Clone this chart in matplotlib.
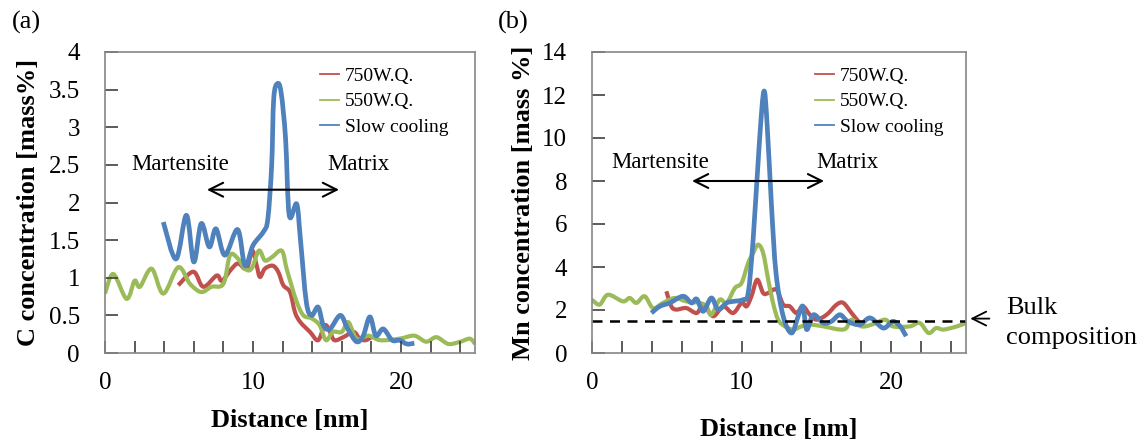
import numpy as np
import matplotlib
matplotlib.use('Agg')
import matplotlib.pyplot as plt
from matplotlib.lines import Line2D
from matplotlib.path import Path
from matplotlib.patches import PathPatch

plt.rcParams['font.family'] = ['Liberation Serif', 'DejaVu Serif']

# (a) carbon profiles
c_slow_x = [3.94, 4.8, 5.5, 6.0, 6.5, 7.05, 7.5, 8.1, 8.96, 9.46, 10.0, 10.7, 11.0, 11.26,
            11.4, 11.65, 11.9, 12.2, 12.45, 12.95, 13.2, 13.6, 13.96, 14.4, 14.75, 15.2,
            15.9, 16.4, 17.0, 17.45, 17.9, 18.3, 18.8, 19.4, 19.9, 20.4, 20.9]
c_slow_y = [1.74, 1.25, 1.83, 1.21, 1.72, 1.41, 1.65, 1.30, 1.64, 1.16, 1.43, 1.61, 1.78, 2.49,
            3.38, 3.58, 3.46, 2.85, 1.83, 1.98, 1.52, 0.68, 0.50, 0.61, 0.37, 0.32,
            0.50, 0.32, 0.15, 0.23, 0.48, 0.23, 0.32, 0.17, 0.17, 0.12, 0.13]

c_750_x = [4.95, 5.97, 6.64, 7.55, 7.9, 8.56, 9.0, 9.57, 9.95, 10.25, 10.47, 10.8, 11.33, 11.7,
           12.05, 12.5, 12.84, 13.2, 13.85, 14.4, 14.86, 15.2, 15.5, 16.1, 16.8, 17.2, 17.6, 18.0]
c_750_y = [0.90, 1.08, 0.88, 1.03, 0.96, 1.12, 1.19, 1.12, 1.36, 1.16, 1.01, 1.12, 1.16, 1.08,
           0.90, 0.81, 0.54, 0.41, 0.28, 0.17, 0.37, 0.28, 0.17, 0.21, 0.28, 0.19, 0.17, 0.21]

c_550_x = [0.0, 0.56, 1.46, 2.0, 2.36, 3.15, 3.94, 4.95, 5.74, 6.5, 7.2, 8.0, 8.45, 9.0, 9.46,
           9.9, 10.4, 10.8, 11.26, 11.94, 12.27, 12.6, 12.95, 13.4, 13.96, 14.5, 14.93, 15.4,
           16.0, 16.44, 17.0, 17.8, 18.6, 19.9, 20.9, 21.7, 22.4, 23.2, 24.0, 24.66, 25.0]
c_550_y = [0.79, 1.05, 0.72, 0.96, 0.88, 1.12, 0.79, 1.14, 0.92, 0.81, 0.88, 0.92, 1.30, 1.25, 1.12,
           1.12, 1.36, 1.23, 1.27, 1.36, 1.12, 0.90, 0.68, 0.50, 0.46, 0.37, 0.17, 0.28,
           0.28, 0.41, 0.19, 0.23, 0.17, 0.19, 0.23, 0.15, 0.21, 0.12, 0.15, 0.19, 0.12]

# (b) manganese profiles
mn_slow_x = [3.97, 4.53, 5.2, 6.09, 6.65, 7.0, 7.43, 7.98, 8.43, 9.0, 9.43, 10.1, 10.44, 10.77,
             11.2, 11.49, 11.7, 12.0, 12.3, 12.78, 13.34, 13.78, 14.1, 14.35, 14.8, 15.45,
             16.0, 16.57, 17.1, 17.9, 18.6, 19.47, 20.1, 20.6, 21.0]
mn_slow_y = [1.86, 2.17, 2.33, 2.64, 2.33, 2.51, 1.94, 2.56, 2.02, 2.33, 2.40, 2.48, 2.79, 5.27,
             9.92, 12.17, 10.7, 6.82, 3.72, 1.71, 0.93, 1.71, 2.17, 1.09, 1.78, 1.40,
             1.47, 1.78, 1.47, 1.32, 1.63, 1.16, 1.47, 1.24, 0.78]

mn_750_x = [4.97, 5.3, 5.64, 6.3, 7.0, 7.43, 8.1, 8.76, 9.43, 10.0, 10.33, 10.66, 11.04, 11.44,
            11.78, 12.33, 12.78, 13.22, 13.67, 14.1, 14.56, 15.0, 15.68, 16.35, 16.8, 17.35,
            17.9, 18.1]
mn_750_y = [2.87, 2.17, 2.02, 2.09, 1.86, 2.25, 1.71, 2.17, 1.86, 2.33, 2.17, 2.64, 3.41, 2.79,
            2.79, 2.95, 2.25, 2.17, 1.86, 2.17, 1.78, 1.55, 1.78, 2.25, 2.33, 1.86,
            1.40, 1.32]

mn_550_x = [0.0, 0.51, 1.07, 2.07, 2.52, 2.97, 3.52, 4.08, 4.75, 5.53, 6.31, 7.2, 7.65, 7.98,
            8.54, 9.0, 9.55, 10.0, 10.44, 10.77, 11.1, 11.44, 11.78, 12.1, 12.44, 12.9, 13.45,
            14.0, 14.56, 15.45, 16.57, 17.0, 17.35, 18.0, 18.7, 19.6, 20.1, 21.25, 21.9, 22.5,
            23.0, 23.5, 24.4, 25.0]
mn_550_y = [2.48, 2.25, 2.71, 2.40, 2.56, 2.33, 2.64, 2.09, 2.33, 2.56, 2.40, 2.33, 2.17, 1.78,
            2.48, 2.33, 3.02, 3.26, 4.19, 4.65, 5.04, 4.65, 3.41, 2.33, 1.55, 1.24, 1.09,
            1.24, 1.32, 1.24, 1.09, 1.16, 1.55, 1.24, 1.32, 1.55, 1.24, 1.24, 1.40, 0.93,
            1.16, 1.09, 1.24, 1.40]

bulk_mn = 1.5

labels = ['750W.Q.', '550W.Q.', 'Slow cooling']
colors = ['#C0504D', '#9BBB59', '#4F81BD']
spine_col = '#868686'

fig = plt.figure(figsize=(11.43, 4.41), dpi=100)
ax1 = fig.add_axes([105/1143, 88/441, 370/1143, 301/441])
ax2 = fig.add_axes([592/1143, 88/441, 374/1143, 301/441])


def smooth_line(ax, xs, ys, color, lw):
    # Excel-style smoothed line: cubic Bezier through the points (Catmull-Rom tangents)
    p = np.column_stack([xs, ys])
    ext = np.vstack([p[0], p, p[-1]])
    verts = [p[0]]
    codes = [Path.MOVETO]
    for i in range(len(p) - 1):
        p0, p1, p2, p3 = ext[i], ext[i + 1], ext[i + 2], ext[i + 3]
        verts += [p1 + (p2 - p0) / 6.0, p2 - (p3 - p1) / 6.0, p2]
        codes += [Path.CURVE4] * 3
    patch = PathPatch(Path(verts, codes), facecolor='none', edgecolor=color, lw=lw,
                      joinstyle='round', capstyle='butt')
    ax.add_patch(patch)


def style_axis(ax, ymax, ystep):
    ax.set_xlim(0, 25)
    ax.set_ylim(0, ymax)
    ax.set_xticks(np.arange(0, 25, 2))
    ax.set_xticklabels(['0' if t == 0 else (str(t) if t % 10 == 0 else '') for t in range(0, 25, 2)])
    yt = np.arange(0, ymax + 0.001, ystep)
    ax.set_yticks(yt)
    ax.set_yticklabels(['%g' % v for v in yt])
    for s in ax.spines.values():
        s.set_color(spine_col)
        s.set_linewidth(1.2)
    ax.tick_params(axis='both', direction='in', length=9, width=1.2, color='#404040',
                   labelsize=18)
    ax.tick_params(axis='y', pad=18)
    ax.tick_params(axis='x', pad=14)


# panel (a)
smooth_line(ax1, c_750_x, c_750_y, colors[0], 3.0)
smooth_line(ax1, c_550_x, c_550_y, colors[1], 3.0)
smooth_line(ax1, c_slow_x, c_slow_y, colors[2], 3.4)
style_axis(ax1, 4, 0.5)
ax1.set_xlabel('Distance [nm]', fontsize=19, fontweight='bold')
ax1.set_ylabel('C concentration [mass%]', fontsize=19, fontweight='bold')
ax1.xaxis.set_label_coords(0.5, -0.185)
ax1.yaxis.set_label_coords(-0.175, 0.5)
ax1.annotate('', xy=(6.7, 2.17), xytext=(16.0, 2.17),
             arrowprops=dict(arrowstyle='<->', color='black', lw=1.5, mutation_scale=25))
ax1.text(5.07, 2.51, 'Martensite', fontsize=16.5, ha='center', va='center')
ax1.text(17.1, 2.51, 'Matrix', fontsize=16.5, ha='center', va='center')

# panel (b)
smooth_line(ax2, mn_750_x, mn_750_y, colors[0], 3.0)
smooth_line(ax2, mn_550_x, mn_550_y, colors[1], 3.0)
smooth_line(ax2, mn_slow_x, mn_slow_y, colors[2], 3.4)
ax2.axhline(bulk_mn, color='black', lw=1.8, ls=(0, (4, 3)))
style_axis(ax2, 14, 2)
ax2.set_xlabel('Distance [nm]', fontsize=19, fontweight='bold')
ax2.set_ylabel('Mn concentration [mass %]', fontsize=19, fontweight='bold')
ax2.xaxis.set_label_coords(0.5, -0.215)
ax2.yaxis.set_label_coords(-0.152, 0.5)
ax2.annotate('', xy=(6.5, 8.0), xytext=(15.7, 8.0),
             arrowprops=dict(arrowstyle='<->', color='black', lw=1.5, mutation_scale=25))
ax2.text(4.53, 8.84, 'Martensite', fontsize=16.5, ha='center', va='center')
ax2.text(17.1, 8.84, 'Matrix', fontsize=16.5, ha='center', va='center')

# bulk composition marker outside the right edge
ax2.annotate('', xy=(25.1, 1.6), xytext=(26.75, 1.6), annotation_clip=False,
             arrowprops=dict(arrowstyle='->', color='black', lw=1.3, mutation_scale=25))
ax2.text(27.7, 2.1, 'Bulk', fontsize=19, ha='left', va='center', clip_on=False)
ax2.text(27.7, 0.7, 'composition', fontsize=19, ha='left', va='center', clip_on=False)

# legends with thin handles
handles = [Line2D([], [], color=c, lw=1.3) for c in colors]
for ax, x0 in ((ax1, 0.58), (ax2, 0.596)):
    ax.legend(handles, labels, loc='upper left', bbox_to_anchor=(x0, 0.95), frameon=False,
              fontsize=14, handlelength=1.0, handletextpad=0.3, labelspacing=0.42,
              borderpad=0, borderaxespad=0)

fig.text(26/1143, 1 - 22/441, '(a)', fontsize=19, ha='center', va='center')
fig.text(513/1143, 1 - 22/441, '(b)', fontsize=19, ha='center', va='center')

fig.savefig('out.png', dpi=100)
